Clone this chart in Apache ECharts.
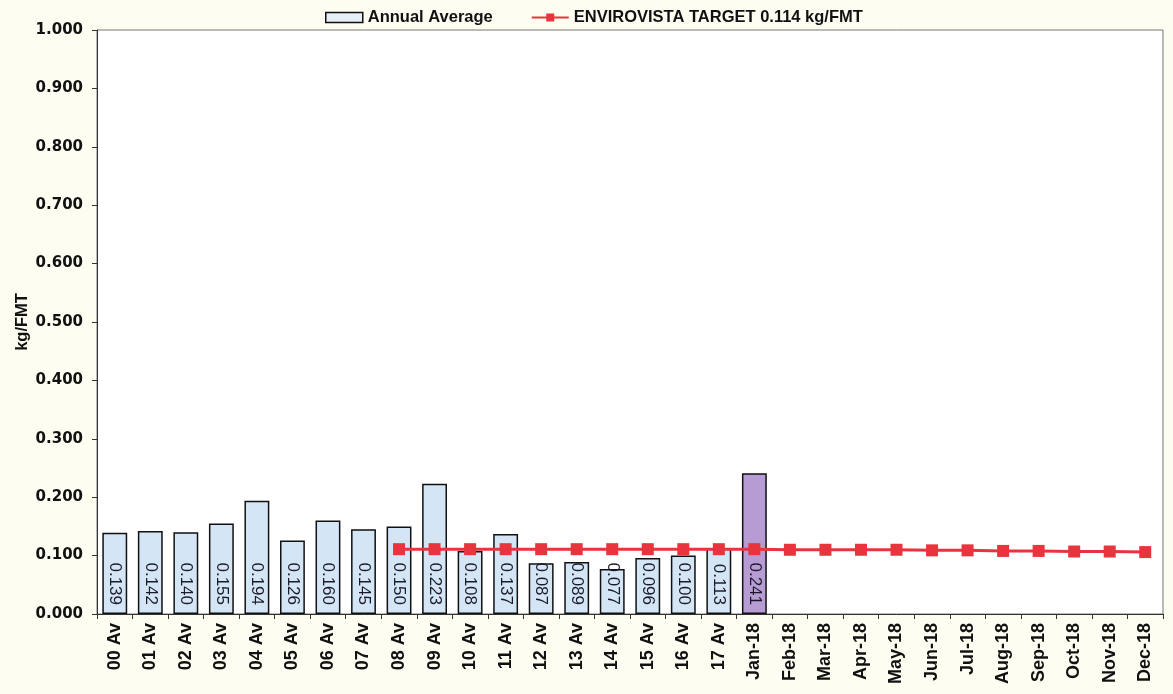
<!DOCTYPE html>
<html>
<head>
<meta charset="utf-8">
<script src="https://cdn.jsdelivr.net/npm/echarts@6/dist/echarts.min.js"></script>
<style>
html,body{margin:0;padding:0;background:#fdfdf2;}
#chart{width:1173px;height:694px;}
</style>
</head>
<body>
<div id="chart"></div>
<script>
const categories = ['00 Av','01 Av','02 Av','03 Av','04 Av','05 Av','06 Av','07 Av','08 Av','09 Av','10 Av','11 Av','12 Av','13 Av','14 Av','15 Av','16 Av','17 Av','Jan-18','Feb-18','Mar-18','Apr-18','May-18','Jun-18','Jul-18','Aug-18','Sep-18','Oct-18','Nov-18','Dec-18'];
const annualAverage = [0.139,0.142,0.140,0.155,0.194,0.126,0.160,0.145,0.150,0.223,0.108,0.137,0.087,0.089,0.077,0.096,0.100,0.113,0.241,null,null,null,null,null,null,null,null,null,null,null];
const target = [null,null,null,null,null,null,null,null,0.111,0.111,0.111,0.111,0.111,0.111,0.111,0.111,0.111,0.111,0.111,0.110,0.110,0.110,0.110,0.109,0.109,0.108,0.108,0.107,0.107,0.106];
const yTicks = ['0.000','0.100','0.200','0.300','0.400','0.500','0.600','0.700','0.800','0.900','1.000'];

const SANS = '"Liberation Sans", Arial, sans-serif';
const WIDE = '"DejaVu Sans", Verdana, sans-serif';
const chart = echarts.init(document.getElementById('chart'));
const barData = annualAverage.map((v,i)=> v==null ? null : ({
  value: v,
  itemStyle: categories[i]==='Jan-18' ? {color:'#b79bd3'} : undefined
}));
chart.setOption({
  backgroundColor:'#fdfdf2',
  animation:false,
  textStyle:{fontFamily:SANS},
  legend:{
    top:4, left:320, itemGap:38,
    textStyle:{fontWeight:'bold',fontSize:16.5,color:'#111',fontFamily:SANS},
    data:[
      {name:'Annual Average', icon:'rect', itemStyle:{color:'#e6eef8',borderColor:'#111',borderWidth:1.5}},
      {name:'ENVIROVISTA TARGET 0.114 kg/FMT'}
    ],
    itemWidth:37, itemHeight:10
  },
  grid:{left:97, right:10, top:30, bottom:80, outerBoundsMode:'none', containLabel:false, show:true, borderColor:'#777', borderWidth:1, backgroundColor:'#ffffff'},
  xAxis:{
    type:'category', data:categories,
    axisLine:{lineStyle:{color:'#333'}},
    axisTick:{show:true, alignWithLabel:false, length:5, lineStyle:{color:'#333'}},
    axisLabel:{rotate:90, fontWeight:'bold', fontSize:18, color:'#111', interval:0, margin:9, fontFamily:SANS}
  },
  yAxis:{
    type:'value', min:0, max:1, interval:0.1,
    name:'kg/FMT', nameLocation:'middle', nameGap:66, nameRotate:90, nameMoveOverlap:false,
    nameTextStyle:{fontWeight:'bold',fontSize:16.5,color:'#111',fontFamily:SANS},
    splitLine:{show:false},
    axisLine:{show:true, lineStyle:{color:'#333'}},
    axisTick:{show:true, length:5, lineStyle:{color:'#333'}},
    axisLabel:{fontWeight:'bold', fontSize:15, color:'#111', margin:14, fontFamily:WIDE, formatter:(v)=>yTicks[Math.round(v*10)]}
  },
  series:[
    {
      name:'Annual Average', type:'bar', data:barData, barWidth:'70%',
      itemStyle:{color:'#d4e6f6', borderColor:'#111', borderWidth:1.5},
      label:{show:true, position:'insideBottom', rotate:-90, align:'right', verticalAlign:'middle', distance:9,
        fontSize:17, color:'#1a1a2a', fontFamily:SANS, formatter:(p)=>p.value.toFixed(3)}
    },
    {
      name:'ENVIROVISTA TARGET 0.114 kg/FMT', type:'line', data:target,
      symbol:'rect', symbolSize:12, color:'#e8343c',
      lineStyle:{width:3,color:'#e8343c'}, itemStyle:{color:'#e8343c'}, z:5
    }
  ]
});
</script>
</body>
</html>
